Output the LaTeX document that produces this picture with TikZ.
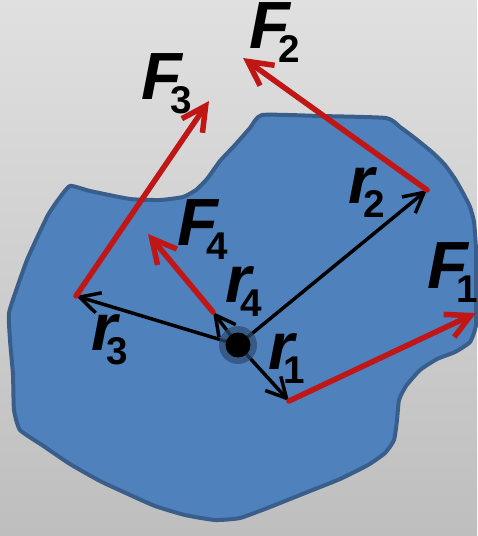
\documentclass[tikz,border=0pt]{standalone}
\usepackage{fontspec}
\setmainfont{Liberation Sans}
\usetikzlibrary{arrows.meta, positioning}

\definecolor{bodyblue}{RGB}{79,129,189}
\definecolor{edgeblue}{RGB}{58,94,140}
\definecolor{forcered}{RGB}{192,22,22}
\definecolor{bgtop}{RGB}{224,224,224}
\definecolor{bgbottom}{RGB}{190,190,190}

\newcommand{\vecname}[2]{{\fontsize{38}{38}\selectfont\bfseries\itshape #1}\kern-6.5pt\raisebox{-8pt}{\fontsize{22}{22}\selectfont\bfseries #2}}

\begin{document}
\begin{tikzpicture}
	[x=0.02cm, y=-0.02cm,
	body/.style={draw=edgeblue, fill=bodyblue, line width=0.08cm, line join=round},
	radius/.style={-{Straight Barb[length=4mm, width=4.2mm]}, line width=0.07cm, black},
	force/.style={-{Straight Barb[length=4.8mm, width=5mm]}, line width=0.11cm, forcered, line cap=round},
	lbl/.style={inner sep=0pt, black}
	]
	
	% Background
	\shade[top color=bgtop, bottom color=bgbottom] (0,0) rectangle (477,536);
	\useasboundingbox (0,0) rectangle (477,536);
	
	% Rigid body
	\draw[body] plot[smooth cycle, tension=0.3] coordinates {
		(70,186) (90,191) (130,199) (160,200) (183,197) (196,190) (207,179)
		(220,161) (235,145) (250,128) (262,115) (320,116) (386,118) (400,127)
		(416,139) (433,153) (445,165) (455,179) (463,193) (470,207) (474,222)
		(476,250) (476,290) (476,325) (470,342) (455,352) (437,359) (420,370)
		(406,386) (399,400) (397,420) (394,440) (385,453) (368,465) (340,479)
		(305,493) (270,507) (240,518) (215,520) (185,515) (155,506) (128,494)
		(100,481) (70,464) (42,445) (20,430) (14,410) (13,375) (10,340)
		(9,313) (18,285) (27,260) (36,240) (48,215) (58,200)};
	
	% Points
	\coordinate (O) at (238,345);
	\coordinate (P1) at (289,401);
	\coordinate (P2) at (427,190);
	\coordinate (P3) at (76,296);
	\coordinate (P4) at (213,312);
	\coordinate (T1) at (476,313);
	\coordinate (T2) at (243,58);
	\coordinate (T3) at (209,101);
	\coordinate (T4) at (148,234);
	
	% Position vectors
	\draw[radius] (O) -- (P1);
	\draw[radius] (O) -- (P2);
	\draw[radius] (O) -- (P3);
	\draw[radius] (O) -- (P4);
	
	% Forces
	\draw[force] (P1) -- (T1);
	\draw[force] (P2) -- (T2);
	\draw[force] (P3) -- (T3);
	\draw[force] (P4) -- (T4);
	
	% Centre
	\fill[edgeblue!80!black, opacity=0.7] (O) circle (19);
	\fill[black] (O) circle (12.5);
	
	% Labels
	\node[lbl] (f1) at (453,273) {\vecname{F}{1}};
	\node[lbl] (f2) at (275,33) {\vecname{F}{2}};
	\node[lbl] (f3) at (167,84) {\vecname{F}{3}};
	\node[lbl] (f4) at (203,230) {\vecname{F}{4}};
	\node[lbl] (r1) at (287,359) {\vecname{r}{1}};
	\node[lbl] (r2) at (367,193) {\vecname{r}{2}};
	\node[lbl] (r3) at (110,340) {\vecname{r}{3}};
	\node[lbl] (r4) at (244,292) {\vecname{r}{4}};
\end{tikzpicture}
\end{document}
